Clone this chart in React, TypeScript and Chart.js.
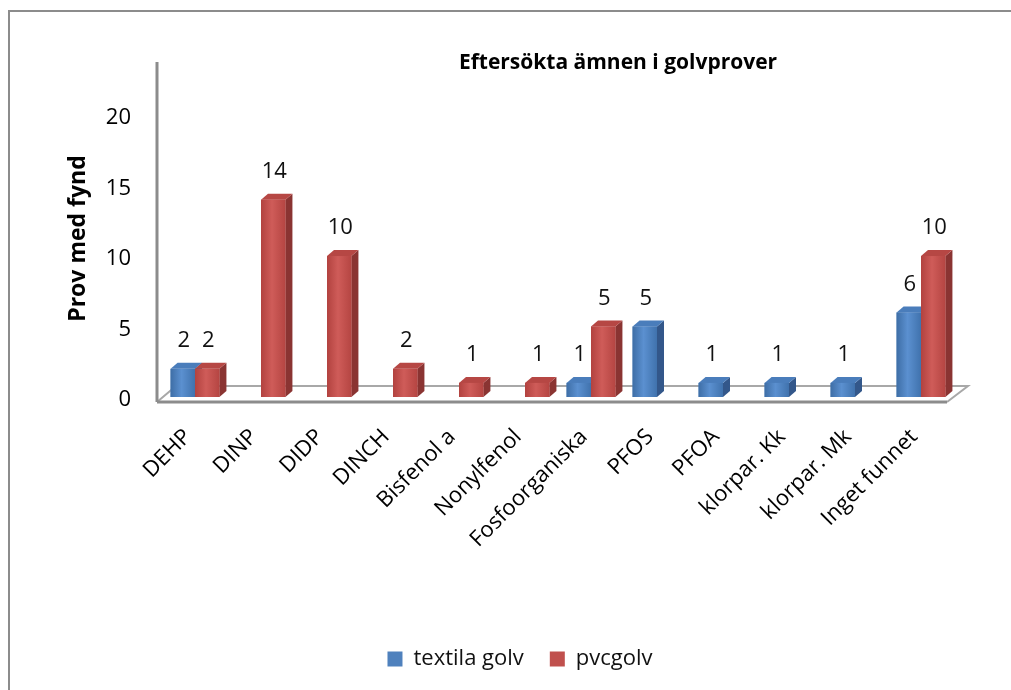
import React, { useEffect, useRef } from 'react';
import { Chart, registerables } from 'chart.js';

Chart.register(...registerables);

const categories = [
  'DEHP', 'DINP', 'DIDP', 'DINCH', 'Bisfenol a', 'Nonylfenol',
  'Fosfoorganiska', 'PFOS', 'PFOA', 'klorpar. Kk', 'klorpar. Mk', 'Inget funnet',
];
const textilaGolv = [2, 0, 0, 0, 0, 0, 1, 5, 1, 1, 1, 6];
const pvcGolv = [2, 14, 10, 2, 1, 1, 5, 0, 0, 0, 0, 10];
const seriesNames = ['textila golv', 'pvcgolv'];
const chartTitle = 'Eftersökta ämnen i golvprover';
const yTitle = 'Prov med fynd';
const yTickStep = 5;
const yMax = 22.5;

const FONT = '"Open Sans", sans-serif';
const DX = 7;
const DY = -6;

const faces = [
  { front: ['#3e6ea6', '#5b90d0', '#4072ad'], side: '#33578a', top: '#4a7dbb', legend: '#4F81BD' },
  { front: ['#b2423f', '#cf5c59', '#b54542'], side: '#8a3432', top: '#b64744', legend: '#C0504D' },
];

const threeD = {
  id: 'threeD',
  beforeDatasetsDraw(chart: any) {
    const ctx = chart.ctx;
    const { left, right, top } = chart.chartArea;
    const y0 = chart.scales.y.getPixelForValue(0);
    ctx.save();
    // floor
    ctx.strokeStyle = '#a8a8a8';
    ctx.lineWidth = 2;
    ctx.beginPath();
    ctx.moveTo(left - 5, y0 + 5);
    ctx.lineTo(left + 14, y0 - 11);
    ctx.lineTo(right + 14, y0 - 11);
    ctx.lineTo(right - 7, y0 + 5);
    ctx.stroke();
    ctx.strokeStyle = '#8c8c8c';
    ctx.lineWidth = 3;
    ctx.beginPath();
    ctx.moveTo(left - 5, y0 + 5);
    ctx.lineTo(right - 7, y0 + 5);
    ctx.stroke();
    // vertical axis line
    ctx.beginPath();
    ctx.moveTo(left - 5, top - 18);
    ctx.lineTo(left - 5, y0 + 5);
    ctx.stroke();
    ctx.restore();
  },
  afterDatasetsDraw(chart: any) {
    const ctx = chart.ctx;
    ctx.save();
    const n = chart.data.labels.length;
    const labelsToDraw: any[] = [];
    for (let i = 0; i < n; i++) {
      chart.data.datasets.forEach((ds: any, di: number) => {
        const v = ds.data[i];
        if (!v) return;
        const el = chart.getDatasetMeta(di).data[i];
        const { x, y, base, width } = el.getProps(['x', 'y', 'base', 'width'], true);
        const l = x - width / 2;
        const r = x + width / 2;
        const f = faces[di];
        ctx.fillStyle = f.side;
        ctx.beginPath();
        ctx.moveTo(r, y);
        ctx.lineTo(r + DX, y + DY);
        ctx.lineTo(r + DX, base + DY);
        ctx.lineTo(r, base);
        ctx.closePath();
        ctx.fill();
        ctx.fillStyle = f.top;
        ctx.beginPath();
        ctx.moveTo(l, y);
        ctx.lineTo(l + DX, y + DY);
        ctx.lineTo(r + DX, y + DY);
        ctx.lineTo(r, y);
        ctx.closePath();
        ctx.fill();
        const g = ctx.createLinearGradient(l, 0, r, 0);
        g.addColorStop(0, f.front[0]);
        g.addColorStop(0.45, f.front[1]);
        g.addColorStop(1, f.front[2]);
        ctx.fillStyle = g;
        ctx.fillRect(l, y, r - l, base - y);
        labelsToDraw.push({ x: x + 1, y: y - 28, text: String(v) });
      });
    }
    ctx.fillStyle = '#111';
    ctx.font = '22px ' + FONT;
    ctx.textAlign = 'center';
    ctx.textBaseline = 'middle';
    labelsToDraw.forEach((lb) => ctx.fillText(lb.text, lb.x, lb.y));
    ctx.restore();
  },
  afterDraw(chart: any) {
    const ctx = chart.ctx;
    ctx.save();
    ctx.fillStyle = '#000';
    ctx.font = 'bold 21px ' + FONT;
    ctx.textAlign = 'center';
    ctx.textBaseline = 'middle';
    ctx.fillText(chartTitle, 618, 63);
    ctx.restore();
  },
};

export default function App() {
  const ref = useRef<HTMLCanvasElement>(null);
  useEffect(() => {
    const chart = new Chart(ref.current as HTMLCanvasElement, {
      type: 'bar',
      data: {
        labels: categories,
        datasets: [
          { label: seriesNames[0], data: textilaGolv, backgroundColor: faces[0].legend, borderWidth: 0 },
          { label: seriesNames[1], data: pvcGolv, backgroundColor: faces[1].legend, borderWidth: 0 },
        ],
      },
      options: {
        responsive: false,
        animation: false,
        layout: { padding: { left: 29, right: 0, top: 80, bottom: 10 } },
        datasets: { bar: { categoryPercentage: 0.74, barPercentage: 1 } },
        plugins: {
          tooltip: { enabled: false },
          title: { display: false },
          legend: {
            position: 'bottom',
            labels: {
              boxWidth: 15,
              boxHeight: 15,
              padding: 26,
              color: '#111',
              font: { family: FONT, size: 22 },
            },
          },
        },
        scales: {
          x: {
            grid: { display: false },
            border: { display: false },
            ticks: {
              minRotation: 45,
              maxRotation: 45,
              padding: 19,
              labelOffset: -7,
              color: '#000',
              font: { family: FONT, size: 22 },
            },
            afterFit(s: any) { s.height = 293 - 58 - 10; },
          },
          y: {
            min: 0,
            max: yMax,
            grid: { display: false },
            border: { display: false },
            ticks: {
              stepSize: yTickStep,
              padding: 23,
              labelOffset: 3,
              color: '#000',
              font: { family: FONT, size: 22 },
              callback: (v: any) => (Number(v) % yTickStep === 0 ? String(v) : ''),
            },
            title: {
              display: true,
              text: yTitle,
              color: '#000',
              font: { family: FONT, size: 23, weight: 'bold' },
              padding: { top: 36, bottom: 0 },
            },
            afterFit(s: any) { s.width = 162 - 29; },
          },
          yRight: {
            position: 'right',
            display: true,
            grid: { display: false },
            border: { display: false },
            ticks: { display: false },
            afterFit(s: any) { s.width = 1011 - 954; },
          },
        },
      },
      plugins: [threeD],
    } as any);
    return () => chart.destroy();
  }, []);
  return (
    <div style={{ position: 'fixed', left: 0, top: 0, width: 1011, height: 690, background: '#fff', overflow: 'hidden' }}>
      <div style={{ position: 'absolute', left: 8, top: 10, width: 1100, height: 800, border: '2px solid #8c8c8c' }} />
      <canvas ref={ref} width={1011} height={690} style={{ position: 'absolute', left: 0, top: 0 }} />
    </div>
  );
}
